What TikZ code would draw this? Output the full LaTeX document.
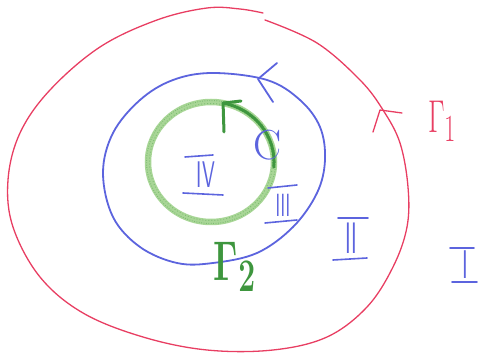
\documentclass[tikz,border=0pt]{standalone}
\usetikzlibrary{calc}
\definecolor{pred}{RGB}{232,62,98}
\definecolor{pblue}{RGB}{92,100,222}
\definecolor{pgreen}{RGB}{168,214,150}
\definecolor{dgreen}{RGB}{62,150,62}
\tikzset{
  redline/.style={pred, line width=1.3pt, line cap=round, line join=round},
  blueline/.style={pblue, line width=1.8pt, line cap=round, line join=round},
  crayon/.style={pgreen, line width=6.5pt},
  greenline/.style={dgreen, line width=3pt, line cap=round, line join=round},
  bar/.style={pblue, line width=1.6pt, line cap=round},
  numlab/.style={pblue, inner sep=0pt, font=\Huge\sffamily},
}
\newcommand{\sq}[3]{\scalebox{#1}[#2]{#3}}
\begin{document}
\begin{tikzpicture}[x=1pt,y=-1pt]
\useasboundingbox (0,0) rectangle (480,355);
% outer red curve Gamma_1
\draw[redline] plot[smooth, tension=0.6] coordinates {(265,20) (317,43) (360,80) (383,110) (400,143) (408,187) (407,227) (393,267) (367,307) (327,337) (273,350) (207,350) (143,337) (83,313) (40,277) (13,227) (8,180) (20,133) (50,90) (100,47) (157,20) (207,8) (240,9) (263,13)};
\coordinate (rt) at (380,110);
\draw[redline] (373,132) -- (rt) -- (402,113);
% blue curve C
\draw[blueline] plot[smooth cycle, tension=0.6] coordinates {(213,73) (267,80) (300,100) (320,127) (325,160) (317,193) (293,227) (257,253) (213,263) (177,263) (140,247) (113,217) (103,173) (113,133) (140,100) (173,80)};
\coordinate (bt) at (258,79);
\draw[blueline] (277,63) -- (bt) -- (273,102);
% green crayon curve Gamma_2
\draw[crayon] (211,162) ellipse [x radius=63, y radius=60];
\draw[pgreen!60!dgreen, line width=1pt, dash pattern=on 0.8pt off 1.6pt] (211,162) ellipse [x radius=64.5, y radius=61.5];
\draw[pgreen!60!dgreen, line width=1pt, dash pattern=on 0.8pt off 2.2pt] (211,162) ellipse [x radius=61.5, y radius=58.5];
\draw[greenline] (273.8,167.2) arc[start angle=5, end angle=-79, x radius=63, y radius=60] coordinate (gt);
\draw[greenline] (224,132) -- (gt) -- (241,101);
% labels
\node[pred, inner sep=0pt] (g1) at (442,121) {\Huge\sq{1.15}{1.85}{$\Gamma_{1}$}};
\node[dgreen, inner sep=0pt] (g2) at (235,267) {\Huge\sq{1.45}{2.25}{$\mathbf{\Gamma}_{\mathbf{2}}$}};
\node[pblue, inner sep=0pt] (c) at (268,145) {\Huge\sq{1.69}{1.69}{C}};
% IV
\node[numlab] (iv) at (206,175) {\sq{0.82}{1.49}{IV}};
\draw[bar] (185,157) -- (213,155);
\draw[bar] (183,193) -- (223,195);
% III
\node[numlab] (iii) at (283,205) {\sq{0.71}{1.29}{III}};
\draw[bar] (268,188) -- (297,185);
\draw[bar] (265,223) -- (297,220);
% II
\node[numlab] (ii) at (351,238) {\sq{0.88}{1.77}{II}};
\draw[bar] (338,218) -- (368,218);
\draw[bar] (333,260) -- (367,258);
% I
\node[numlab] (i) at (465,265) {\sq{0.88}{1.61}{I}};
\draw[bar] (450,248) -- (474,248);
\draw[bar] (452,282) -- (477,282);
\end{tikzpicture}
\end{document}
